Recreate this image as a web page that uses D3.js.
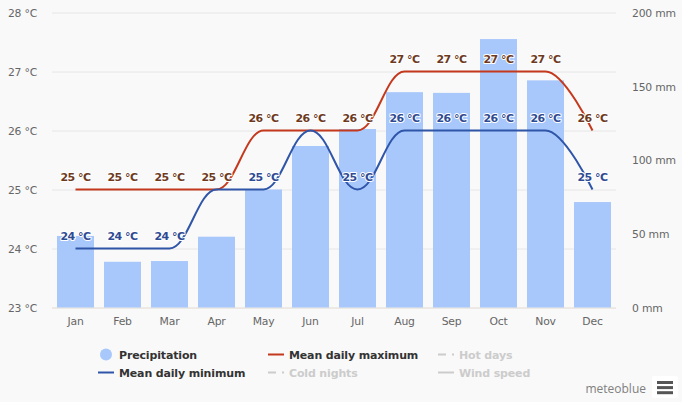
<!DOCTYPE html>
<html>
<head>
<meta charset="utf-8">
<script src="https://cdn.jsdelivr.net/npm/d3@7"></script>
<style>
  html, body { margin: 0; padding: 0; background: #f9f9f9; }
  svg { display: block; font-family: "DejaVu Sans", sans-serif; }
  .tick-label { font-family: "DejaVu Sans", sans-serif; font-size: 10.8px; letter-spacing: -0.2px; fill: #666; }
  .legend-label { font-size: 11px; letter-spacing: -0.15px; font-weight: bold; }
  .point-label { font-size: 11px; letter-spacing: -0.5px; font-weight: bold; text-anchor: middle; paint-order: stroke; stroke: #fff; stroke-width: 2px; stroke-linejoin: round; }
</style>
</head>
<body>
<div id="chart"></div>
<script>
// ---- data ----
const months = ["Jan", "Feb", "Mar", "Apr", "May", "Jun", "Jul", "Aug", "Sep", "Oct", "Nov", "Dec"];
const precipitation = [48.5, 31, 31.5, 48, 80, 109.5, 121, 146, 145.5, 182, 154, 71.5];
const meanMax = [25, 25, 25, 25, 26, 26, 26, 27, 27, 27, 27, 26];
const meanMin = [24, 24, 24, 25, 25, 26, 25, 26, 26, 26, 26, 25];
const tempTicks = [23, 24, 25, 26, 27, 28];
const precipTicks = [0, 50, 100, 150, 200];

const width = 682, height = 402;
const plot = {left: 52, right: 616, top: 12.5, bottom: 307.5};

const svg = d3.select("#chart").append("svg")
    .attr("width", width)
    .attr("height", height);

// ---- scales ----
const x = d3.scaleBand().domain(months).range([plot.left, plot.right]).paddingInner(10 / 47).paddingOuter(5 / 47);
const yTemp = d3.scaleLinear().domain([23, 28]).range([plot.bottom, plot.top]);
const yPrecip = d3.scaleLinear().domain([0, 200]).range([plot.bottom, plot.top]);
const cx = d => x(d) + x.bandwidth() / 2;

// ---- axes ----
const leftAxis = svg.append("g")
    .attr("transform", `translate(${plot.left},0)`)
    .call(d3.axisLeft(yTemp).tickValues(tempTicks).tickFormat(d => `${d} °C`).tickSize(0).tickPadding(15));
leftAxis.select(".domain").remove();
leftAxis.selectAll("text").attr("class", "tick-label").attr("dy", "0.36em");

// gridlines sit under the bars
svg.append("g")
    .attr("transform", `translate(${plot.left},0)`)
    .call(d3.axisRight(yTemp).tickValues(tempTicks).tickFormat("").tickSize(plot.right - plot.left))
    .call(g => g.select(".domain").remove())
    .selectAll("line")
    .attr("stroke", d => d === 23 ? "#e0d8d0" : "#e6e6e6");

const rightAxis = svg.append("g")
    .attr("transform", `translate(${plot.right},0)`)
    .call(d3.axisRight(yPrecip).tickValues(precipTicks).tickFormat(d => `${d} mm`).tickSize(0).tickPadding(16));
rightAxis.select(".domain").remove();
rightAxis.selectAll("text").attr("class", "tick-label").attr("dy", "0.36em");

const bottomAxis = svg.append("g")
    .attr("transform", `translate(0,${plot.bottom})`)
    .call(d3.axisBottom(x).tickSize(0).tickPadding(10));
bottomAxis.select(".domain").remove();
bottomAxis.selectAll("text").attr("class", "tick-label");

// ---- bars ----
svg.append("g").selectAll("rect")
    .data(months)
    .enter().append("rect")
    .attr("x", d => x(d))
    .attr("width", x.bandwidth())
    .attr("y", (d, i) => yPrecip(precipitation[i]))
    .attr("height", (d, i) => plot.bottom - yPrecip(precipitation[i]))
    .attr("fill", "#a8c8fb");

// ---- lines ----
// spline with flat tangents at inner points, handles 0.4 of the step,
// and no handle at the two ends so the last segment stays steep
function flatSpline(context) {
    let pts;
    return {
        areaStart() {}, areaEnd() {},
        lineStart() { pts = []; },
        lineEnd() {
            pts.forEach((p, i) => {
                if (i === 0) { context.moveTo(p[0], p[1]); return; }
                const q = pts[i - 1];
                const h = (p[0] - q[0]) * 0.4;
                const h0 = i === 1 ? 0 : h;
                const h1 = i === pts.length - 1 ? 0 : h;
                context.bezierCurveTo(q[0] + h0, q[1], p[0] - h1, p[1], p[0], p[1]);
            });
        },
        point(px, py) { pts.push([px, py]); }
    };
}

const line = d3.line()
    .x((d, i) => cx(months[i]))
    .y(d => yTemp(d))
    .curve(flatSpline);

const series = [
    {values: meanMax, color: "#c4391d", text: "#6e3a1e"},
    {values: meanMin, color: "#2f55a8", text: "#2f4b93"}
];

series.forEach(s => {
    svg.append("path")
        .attr("d", line(s.values))
        .attr("fill", "none")
        .attr("stroke", s.color)
        .attr("stroke-width", 2);
});

// a minimum label that would land on the maximum label is left out
series.forEach(s => {
    const labelled = months
        .map((m, i) => ({month: m, value: s.values[i], clash: s.values === meanMin && meanMin[i] === meanMax[i]}))
        .filter(d => !d.clash);
    svg.append("g").selectAll("text")
        .data(labelled)
        .enter().append("text")
        .attr("class", "point-label")
        .attr("x", d => cx(d.month))
        .attr("y", d => yTemp(d.value) - 8.5)
        .attr("fill", s.text)
        .text(d => `${d.value} °C`);
});

// ---- legend ----
const legendItems = [
    {name: "Precipitation", tx: 119, ty: 359, on: true, kind: "dot"},
    {name: "Mean daily maximum", tx: 289, ty: 359, on: true, kind: "line", color: "#c4391d"},
    {name: "Hot days", tx: 459, ty: 359, on: false, kind: "dash"},
    {name: "Mean daily minimum", tx: 119, ty: 377, on: true, kind: "line", color: "#2f55a8"},
    {name: "Cold nights", tx: 289, ty: 377, on: false, kind: "dash"},
    {name: "Wind speed", tx: 459, ty: 377, on: false, kind: "line", color: "#ccc"}
];

const legend = svg.append("g");
legendItems.forEach(d => {
    const my = d.ty - 4.5;
    if (d.kind === "dot") {
        legend.append("circle").attr("cx", d.tx - 13).attr("cy", my).attr("r", 6).attr("fill", "#a8c8fb");
    } else {
        legend.append("line")
            .attr("x1", d.tx - 21).attr("x2", d.tx - 5).attr("y1", my).attr("y2", my)
            .attr("stroke", d.kind === "dash" ? "#ccc" : d.color)
            .attr("stroke-width", 2)
            .attr("stroke-dasharray", d.kind === "dash" ? "8,6,2,6" : null);
    }
    legend.append("text")
        .attr("class", "legend-label")
        .attr("x", d.tx).attr("y", d.ty)
        .attr("fill", d.on ? "#333" : "#ccc")
        .text(d.name);
});

// ---- credit and menu ----
svg.append("text")
    .attr("x", 646).attr("y", 393)
    .attr("text-anchor", "end")
    .style("font-family", "'Open Sans', sans-serif")
    .style("font-size", "12px")
    .attr("fill", "#808080")
    .text("meteoblue");

svg.append("rect").attr("x", 652).attr("y", 376).attr("width", 26).attr("height", 22).attr("fill", "#fff").attr("rx", 2);
svg.append("g").selectAll("rect")
    .data([0, 1, 2])
    .enter().append("rect")
    .attr("x", 657).attr("width", 16).attr("height", 3)
    .attr("y", d => 381 + d * 5.1)
    .attr("fill", "#555");
</script>
</body>
</html>
